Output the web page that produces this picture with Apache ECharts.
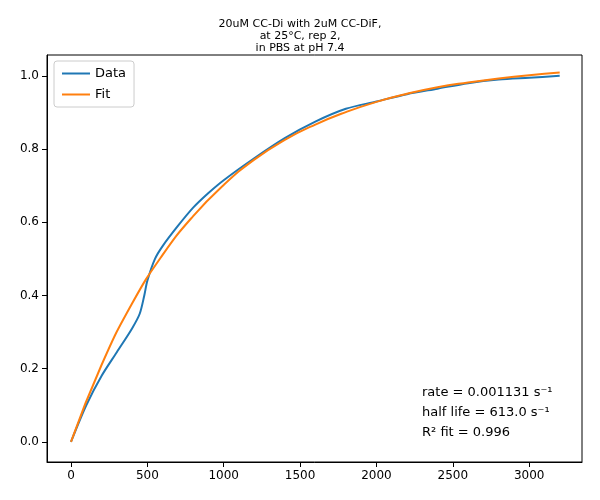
<!DOCTYPE html>
<html><head><meta charset="utf-8">
<script src="https://cdn.jsdelivr.net/npm/echarts@6/dist/echarts.min.js"></script>
<style>html,body{margin:0;padding:0;background:#fff}#c{width:600px;height:500px}</style>
</head><body><div id="c"></div>
<script>
const dataT = [0,100,200,300,400,450,480,500,550,600,700,800,900,1000,1200,1400,1600,1800,2000,2200,2400,2600,2800,3000,3200];
const dataY = [0,0.1,0.18,0.245,0.31,0.35,0.40,0.44,0.5,0.535,0.59,0.64,0.68,0.715,0.775,0.83,0.875,0.91,0.93,0.95,0.965,0.98,0.99,0.995,1.0];
const fitT = [0,200,400,600,800,1000,1200,1400,1600,1800,2000,2200,2400,2600,2800,3000,3200];
const fitY = [0,0.210,0.378,0.511,0.617,0.702,0.771,0.825,0.867,0.901,0.929,0.951,0.969,0.982,0.993,1.002,1.009];
const xTicks = [0,500,1000,1500,2000,2500,3000];
const chart = echarts.init(document.getElementById('c'));
const ax = {color:'#000',fontSize:12,fontFamily:'DejaVu Sans'};
chart.setOption({
  animation:false,
  title:{text:'20uM CC-Di with 2uM CC-DiF,\nat 25°C, rep 2,\nin PBS at pH 7.4',left:'center',top:13,
    textStyle:{fontSize:11,fontWeight:'normal',fontFamily:'DejaVu Sans',lineHeight:12,color:'#000'}},
  grid:{left:47,right:18,top:55,bottom:38},
  legend:{left:54,top:61,orient:'vertical',itemWidth:28,itemHeight:2,itemGap:8,
    borderColor:'#ccc',borderWidth:1,borderRadius:3,padding:[6,8],
    textStyle:{fontSize:13,fontFamily:'DejaVu Sans',color:'#000'},
    data:[{name:'Data',icon:'rect'},{name:'Fit',icon:'rect'}]},
  xAxis:{type:'value',min:-157,max:3346,interval:500,
    axisLine:{onZero:false,lineStyle:{color:'#000'}},splitLine:{show:false},
    axisLabel:Object.assign({},ax,{customValues:xTicks,formatter:v=>String(v)}),axisTick:{customValues:xTicks,lineStyle:{color:'#000'}}},
  yAxis:{type:'value',min:-0.055,max:1.057,
    axisLine:{show:true,onZero:false,lineStyle:{color:'#000'}},splitLine:{show:false},
    axisLabel:Object.assign({},ax,{customValues:[0,0.2,0.4,0.6,0.8,1.0],formatter:v=>v.toFixed(1)}),
    axisTick:{show:true,customValues:[0,0.2,0.4,0.6,0.8,1.0],lineStyle:{color:'#000'}}},
  series:[
    {name:'Data',type:'line',smooth:0.3,showSymbol:false,color:'#1f77b4',lineStyle:{width:2},
      data:dataT.map((t,i)=>[t,dataY[i]])},
    {name:'Fit',type:'line',smooth:true,showSymbol:false,color:'#ff7f0e',lineStyle:{width:2},
      data:fitT.map((t,i)=>[t,fitY[i]])}
  ],
  graphic:[{type:'text',left:422,top:383,style:{text:'rate = 0.001131 s⁻¹\nhalf life = 613.0 s⁻¹\nR² fit = 0.996',
    font:'13px DejaVu Sans',lineHeight:20,fill:'#000'}},
    {type:'rect',shape:{x:47,y:55,width:535,height:407},style:{fill:'none',stroke:'#000',lineWidth:1},silent:true}]
});
</script></body></html>
